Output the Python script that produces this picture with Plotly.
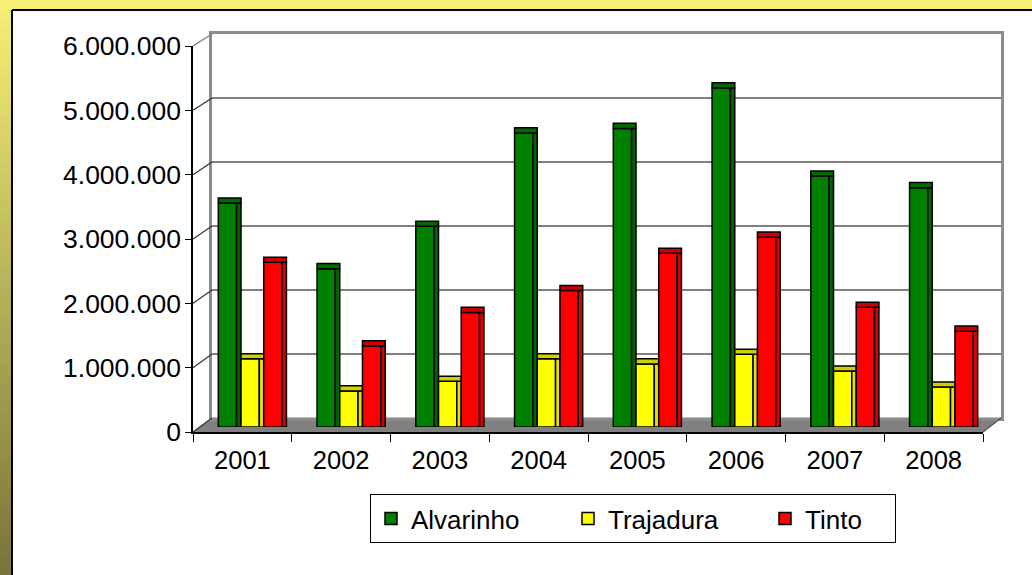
import plotly.graph_objects as go

# ---------------- data ----------------
years = ["2001", "2002", "2003", "2004", "2005", "2006", "2007", "2008"]
alvarinho = [3480000, 2460000, 3120000, 4570000, 4640000, 5270000, 3900000, 3720000]
trajadura = [1060000, 560000, 710000, 1060000, 980000, 1130000, 870000, 620000]
tinto = [2560000, 1260000, 1780000, 2120000, 2700000, 2950000, 1860000, 1490000]
series_names = ["Alvarinho", "Trajadura", "Tinto"]
y_ticks = [0, 1000000, 2000000, 3000000, 4000000, 5000000, 6000000]

W, H = 1032, 575
YMAX = 6000000


def fx(px):
    return px / W


def fy(py):
    return 1 - py / H


# geometry of the pseudo-3D box (pixels)
FRONT = dict(x0=193, x1=983, y0=432, y1=46)
BACK = dict(x0=212, x1=1001, y0=418, y1=34)
MID = dict(x0=203, x1=993, y0=427, y1=41)

fig = go.Figure()

# back-wall helper trace (drawn first, behind everything)
fig.add_trace(go.Scatter(x=years, y=[None] * len(years), xaxis="x2", yaxis="y2",
                         showlegend=False, hoverinfo="skip"))
# invisible trace on the front axes so they are drawn
fig.add_trace(go.Scatter(x=years, y=[None] * len(years), xaxis="x", yaxis="y",
                         showlegend=False, hoverinfo="skip"))

face_colors = ["#008000", "#FFFF00", "#FF0000"]
side_colors = ["#006400", "#E2E200", "#D80000"]
cap_colors = ["#006A00", "#CFCF00", "#CC0000"]
values = [alvarinho, trajadura, tinto]
offsets = [-0.345, -0.115, 0.115]
legend_widths = [152, 152, 85]
wf, ws = 0.185, 0.045
cap = 80000

for i, name in enumerate(series_names):
    fig.add_trace(go.Bar(
        x=years, y=values[i], name=name, xaxis="x3", yaxis="y3",
        offset=offsets[i], width=wf, marker_color=face_colors[i],
        marker_line=dict(color="black", width=1.5), legendwidth=legend_widths[i],
        hoverinfo="x+y",
    ))
    fig.add_trace(go.Bar(
        x=years, y=values[i], xaxis="x3", yaxis="y3", showlegend=False,
        offset=offsets[i] + wf, width=ws, marker_color=side_colors[i],
        marker_line=dict(color="black", width=1.5), hoverinfo="skip",
    ))
    fig.add_trace(go.Bar(
        x=years, y=[cap] * len(years), base=values[i], xaxis="x3", yaxis="y3",
        showlegend=False, offset=offsets[i], width=wf + ws,
        marker_color=cap_colors[i], marker_line=dict(color="black", width=1.5),
        hoverinfo="skip",
    ))

shapes = []
# outer yellow frame with gradient on the left strip
shapes.append(dict(type="rect", xref="paper", yref="paper", x0=0, x1=1, y0=fy(10), y1=1,
                   fillcolor="#F6F078", line_width=0, layer="below"))
top_c = (246, 240, 120)
bot_c = (122, 117, 58)
N = 60
for k in range(N):
    t = k / (N - 1)
    c = tuple(int(top_c[j] + (bot_c[j] - top_c[j]) * t) for j in range(3))
    shapes.append(dict(type="rect", xref="paper", yref="paper",
                       x0=0, x1=fx(12), y0=fy(H * (k + 1) / N + 1), y1=fy(H * k / N),
                       fillcolor="rgb(%d,%d,%d)" % c, line_width=0, layer="below"))
shapes.append(dict(type="line", xref="paper", yref="paper", x0=fx(12), x1=fx(12),
                   y0=0, y1=fy(10), line=dict(color="black", width=2)))
shapes.append(dict(type="line", xref="paper", yref="paper", x0=fx(12), x1=1,
                   y0=fy(10), y1=fy(10), line=dict(color="black", width=2)))

# floor
shapes.append(dict(type="path", xref="paper", yref="paper",
                   path="M %f %f L %f %f L %f %f L %f %f Z" % (
                       fx(FRONT["x0"]), fy(FRONT["y0"]), fx(FRONT["x1"]), fy(FRONT["y0"]),
                       fx(BACK["x1"]), fy(BACK["y0"]), fx(BACK["x0"]), fy(BACK["y0"])),
                   fillcolor="#808080", line=dict(color="#808080", width=1), layer="between"))
shapes.append(dict(type="line", xref="paper", yref="paper",
                   x0=fx(FRONT["x1"]), y0=fy(FRONT["y0"]), x1=fx(BACK["x1"]), y1=fy(BACK["y0"]),
                   line=dict(color="#555555", width=1.2)))
# left wall diagonals from front ticks to back gridlines
for v in y_ticks:
    yf = FRONT["y0"] + (FRONT["y1"] - FRONT["y0"]) * v / YMAX
    yb = BACK["y0"] + (BACK["y1"] - BACK["y0"]) * v / YMAX
    shapes.append(dict(type="line", xref="paper", yref="paper",
                       x0=fx(FRONT["x0"]), y0=fy(yf), x1=fx(BACK["x0"]), y1=fy(yb),
                       line=dict(color="#7a7a7a" if v == YMAX else "#333333", width=1.2)))

font_family = "Arial, 'Liberation Sans', sans-serif"

fig.update_layout(
    width=W, height=H, autosize=False,
    margin=dict(l=0, r=0, t=0, b=0, autoexpand=False),
    paper_bgcolor="white", plot_bgcolor="rgba(0,0,0,0)",
    separators=",.",
    barmode="overlay",
    font=dict(family=font_family, size=26, color="black"),
    shapes=shapes,
    showlegend=True,
    legend=dict(orientation="h", x=fx(370), xanchor="left", y=fy(494), yanchor="top",
                bordercolor="black", borderwidth=1, bgcolor="white",
                font=dict(family=font_family, size=26, color="black"),
                traceorder="normal"),
    xaxis=dict(domain=[fx(FRONT["x0"]), fx(FRONT["x1"])], anchor="y", automargin=False,
               type="category", categoryorder="array", categoryarray=years,
               range=[-0.5, 7.5], showline=True, linecolor="black", linewidth=1.5,
               ticks="outside", tickson="boundaries", ticklen=8, tickcolor="black",
               tickwidth=1.2, showgrid=False, zeroline=False, ticklabelstandoff=5,
               tickfont=dict(size=25.5)),
    yaxis=dict(domain=[fy(FRONT["y0"]), fy(FRONT["y1"])], anchor="x", automargin=False,
               range=[0, YMAX], tickvals=y_ticks, tickformat=",d",
               showline=True, linecolor="black", linewidth=1.5,
               ticks="outside", ticklen=6, tickcolor="black", tickwidth=1.2,
               showgrid=False, zeroline=False, ticklabelstandoff=-1,
               tickfont=dict(size=26.5)),
    xaxis2=dict(domain=[fx(BACK["x0"]), fx(BACK["x1"])], anchor="y2",
                type="category", range=[-0.5, 7.5], showticklabels=False, ticks="",
                showgrid=False, zeroline=False, showline=True, mirror=True,
                linecolor="#8c8c8c", linewidth=2.5, automargin=False),
    yaxis2=dict(domain=[fy(BACK["y0"]), fy(BACK["y1"])], anchor="x2",
                range=[0, YMAX], tickvals=y_ticks, showticklabels=False, ticks="",
                showgrid=True, gridcolor="#808080", gridwidth=2,
                showline=True, mirror=True, linecolor="#8c8c8c", linewidth=2.5,
                zeroline=False, automargin=False),
    xaxis3=dict(domain=[fx(MID["x0"]), fx(MID["x1"])], anchor="y3",
                type="category", categoryorder="array", categoryarray=years,
                range=[-0.5, 7.5], visible=False, automargin=False),
    yaxis3=dict(domain=[fy(MID["y0"]), fy(MID["y1"])], anchor="x3",
                range=[0, YMAX], visible=False, automargin=False),
)

fig.write_html("out.html", config={"displayModeBar": False},
               post_script="document.body.style.margin='0';")
